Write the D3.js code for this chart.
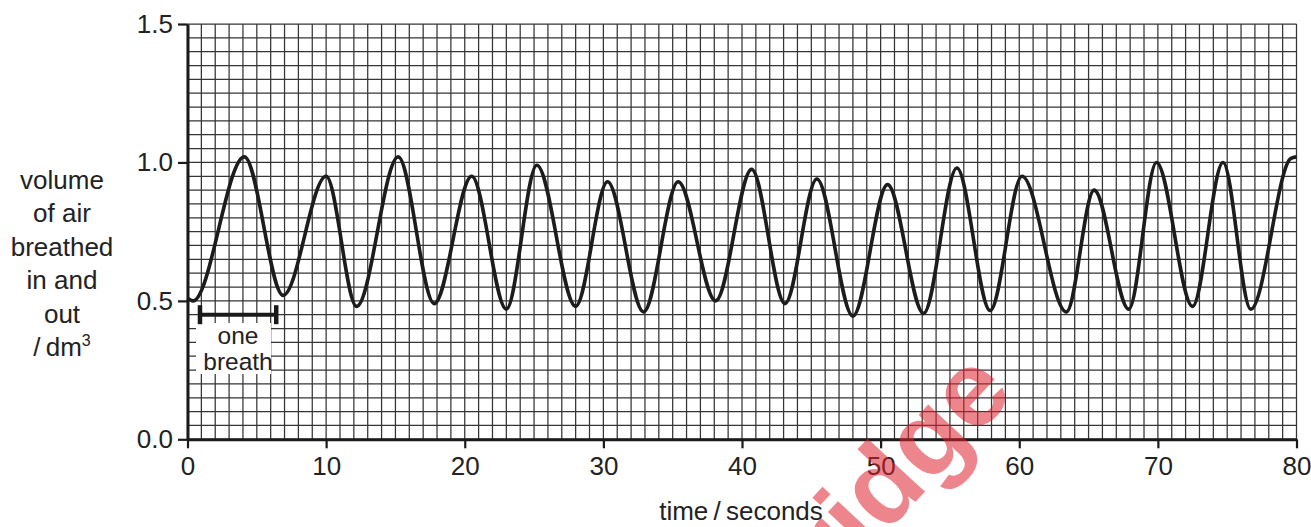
<!DOCTYPE html>
<html lang=en>
<head>
    <meta charset='utf-8'>
    <script src="https://d3js.org/d3.v7.min.js"></script>
    <style>
        body { margin: 0; background: #fff; }
        text { font-family: Arial, "Liberation Sans", sans-serif; fill: #222; }
    </style>
</head>
<body>
<div id="my_chart"></div>
<script>
    // values (peaks and troughs, seconds / dm3)
    var breathTimes = [0, 0.4, 4.1, 6.9, 10.0, 12.2, 15.2, 17.8, 20.5, 23.0, 25.2, 28.0, 30.3, 32.9,
        35.4, 38.1, 40.7, 43.1, 45.4, 48.0, 50.5, 53.1, 55.5, 57.9, 60.2, 63.4, 65.4, 67.9,
        69.9, 72.5, 74.7, 76.7, 79.6, 80];
    var airVolume = [0.51, 0.50, 1.02, 0.52, 0.95, 0.48, 1.02, 0.49, 0.95, 0.47, 0.99, 0.48, 0.93, 0.46,
        0.93, 0.50, 0.975, 0.49, 0.94, 0.445, 0.92, 0.455, 0.98, 0.465, 0.95, 0.46, 0.90, 0.47,
        1.00, 0.48, 1.00, 0.47, 1.015, 1.02];
    var xTickValues = [0, 10, 20, 30, 40, 50, 60, 70, 80];
    var yTickValues = [0.0, 0.5, 1.0, 1.5];
    var yTitleLines = ["volume", "of air", "breathed", "in and", "out"];

    // the "one breath" marker
    var breathStart = 0.9, breathEnd = 6.4, breathLevel = 0.45;

    var svg = d3.select("#my_chart")
        .append("svg")
        .attr("width", 1311)
        .attr("height", 527);

    var x = d3.scaleLinear().domain([0, 80]).range([187.5, 1296.5]);
    var y = d3.scaleLinear().domain([0, 1.5]).range([439.3, 24]);

    // graph paper, 1 s by 0.05 dm3
    function drawGrid(g) {
        g.selectAll("line.v")
            .data(x.ticks(80))
            .enter().append("line")
            .attr("class", "v")
            .attr("x1", function(d) { return x(d); })
            .attr("x2", function(d) { return x(d); })
            .attr("y1", y(0))
            .attr("y2", y(1.5));
        g.selectAll("line.h")
            .data(y.ticks(30))
            .enter().append("line")
            .attr("class", "h")
            .attr("x1", x(0))
            .attr("x2", x(80))
            .attr("y1", function(d) { return y(d); })
            .attr("y2", function(d) { return y(d); });
        g.attr("stroke", "#353535").attr("stroke-width", 1.25);
    }
    drawGrid(svg.append("g"));

    // white label box over the grid, with grid stubs left at its edges
    var bx0 = 191, bx1 = 276, by0 = 318, by1 = 379, inset = 5;
    svg.append("rect")
        .attr("x", bx0).attr("y", by0)
        .attr("width", bx1 - bx0).attr("height", by1 - by0)
        .attr("fill", "#fff");

    svg.append("defs").append("clipPath")
        .attr("id", "stubs")
        .append("path")
        .attr("clip-rule", "evenodd")
        .attr("d", "M" + bx0 + "," + by0 + "H" + bx1 + "V" + by1 + "H" + bx0 + "Z" +
            "M" + (bx0 + inset) + "," + (by0 + inset) + "H" + (bx1 - inset) +
            "V" + (by1 - inset) + "H" + (bx0 + inset) + "Z");
    drawGrid(svg.append("g").attr("clip-path", "url(#stubs)"));

    // the trace
    var line = d3.line()
        .x(function(d, i) { return x(breathTimes[i]); })
        .y(function(d) { return y(d); })
        .curve(d3.curveMonotoneX);

    svg.append("path")
        .datum(airVolume)
        .attr("d", line)
        .attr("fill", "none")
        .attr("stroke", "#1c1c1c")
        .attr("stroke-width", 3.6)
        .attr("stroke-linejoin", "round");

    // axes
    var xAxis = svg.append("g")
        .attr("transform", "translate(0," + y(0) + ")")
        .call(d3.axisBottom(x).tickValues(xTickValues).tickSize(9).tickPadding(8).tickSizeOuter(0));
    var yAxis = svg.append("g")
        .attr("transform", "translate(" + x(0) + ",0)")
        .call(d3.axisLeft(y).tickValues(yTickValues).tickFormat(d3.format(".1f"))
            .tickSize(9.5).tickPadding(5).tickSizeOuter(0));

    [xAxis, yAxis].forEach(function(a) {
        a.select(".domain").attr("stroke", "#1a1a1a").attr("stroke-width", 3);
        a.selectAll(".tick line").attr("stroke", "#1a1a1a").attr("stroke-width", 2.2);
        a.selectAll(".tick text")
            .attr("fill", "#222")
            .style("font-size", "26px")
            .style("font-family", "Arial, 'Liberation Sans', sans-serif");
    });

    // axis titles
    var yTitle = svg.append("text")
        .attr("text-anchor", "middle")
        .style("font-size", "26px");
    yTitleLines.forEach(function(t, i) {
        yTitle.append("tspan").attr("x", 62).attr("y", 188.5 + i * 33.5).text(t);
    });
    var unitLine = yTitle.append("tspan").attr("x", 62).attr("y", 188.5 + 5 * 33.5);
    unitLine.text("/\u2009dm");
    unitLine.append("tspan").attr("dy", -10).style("font-size", "16px").text("3");

    svg.append("text")
        .attr("x", 741)
        .attr("y", 520)
        .attr("text-anchor", "middle")
        .style("font-size", "26px")
        .text("time\u2009/\u2009seconds");

    // "one breath" bar
    var bar = svg.append("g").attr("stroke", "#1a1a1a");
    bar.append("line")
        .attr("x1", x(breathStart)).attr("x2", x(breathEnd))
        .attr("y1", y(breathLevel)).attr("y2", y(breathLevel))
        .attr("stroke-width", 4);
    [breathStart, breathEnd].forEach(function(t) {
        bar.append("line")
            .attr("x1", x(t)).attr("x2", x(t))
            .attr("y1", y(breathLevel) - 9.5).attr("y2", y(breathLevel) + 9.5)
            .attr("stroke-width", 4.5);
    });

    var note = svg.append("text")
        .attr("text-anchor", "middle")
        .style("font-size", "24.5px");
    note.append("tspan").attr("x", 238).attr("y", 344).text("one");
    note.append("tspan").attr("x", 238).attr("y", 370).text("breath");

    // watermark
    svg.append("text")
        .attr("transform", "translate(1016,394) rotate(-47)")
        .attr("text-anchor", "end")
        .style("font-size", "108px")
        .style("font-weight", "bold")
        .style("fill", "rgb(222,32,48)")
        .style("fill-opacity", 0.55)
        .text("Cambridge");
</script>
</body>
</html>
